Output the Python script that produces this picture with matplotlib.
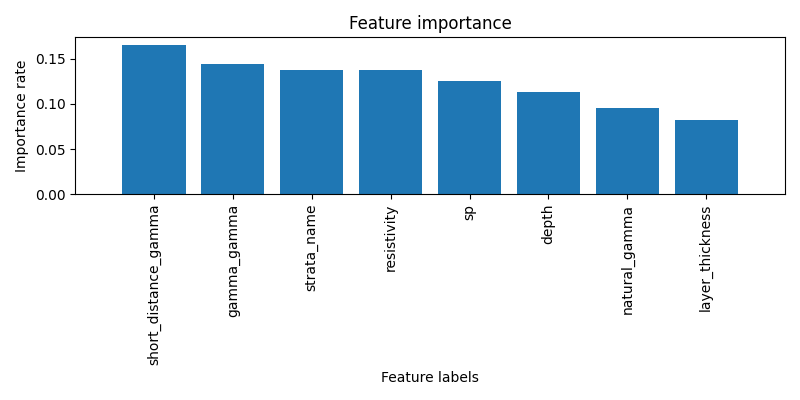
import matplotlib
matplotlib.use("Agg")
import matplotlib.pyplot as plt

features = ["short_distance_gamma", "gamma_gamma", "strata_name", "resistivity",
            "sp", "depth", "natural_gamma", "layer_thickness"]
importance = [0.1656, 0.1444, 0.1378, 0.1378, 0.1256, 0.1133, 0.0956, 0.0822]

fig, ax = plt.subplots(figsize=(8, 4), dpi=100)
ax.bar(range(len(features)), importance, align="center")
ax.set_xticks(range(len(features)))
ax.set_xticklabels(features, rotation=90)
ax.set_xlim([-1, len(features)])
ax.set_title("Feature importance")
ax.set_xlabel("Feature labels")
ax.set_ylabel("Importance rate")
plt.tight_layout()
plt.savefig("out.png")
